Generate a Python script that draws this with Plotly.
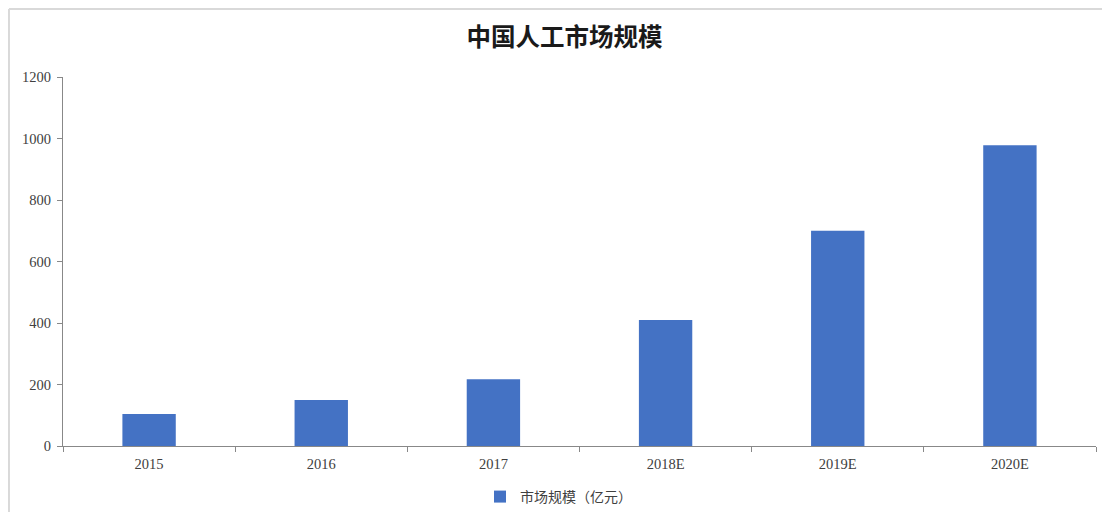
import plotly.graph_objects as go

categories = ["2015", "2016", "2017", "2018E", "2019E", "2020E"]
values = [104, 150, 217, 410, 700, 978]
series_name = "市场规模（亿元）"
title_text = "中国人工市场规模"

fig = go.Figure()
fig.add_trace(go.Bar(
    x=categories, y=values, name=series_name,
    marker=dict(color="#4472C4", line=dict(width=0)),
    showlegend=True,
))

axis_font = dict(family="Liberation Serif, Times New Roman, serif", size=14.5, color="#404040")

fig.update_layout(
    width=1094, height=504,
    margin=dict(l=55, r=6, t=69, b=66),
    paper_bgcolor="white", plot_bgcolor="white",
    bargap=0.69,
    title=dict(text="<b>" + title_text + "</b>", x=0.5087, xanchor="center", y=0.9425, yanchor="middle",
               font=dict(family="Noto Sans CJK SC", size=24.5, color="#1a1a1a")),
    xaxis=dict(
        type="category", showgrid=False, showline=True, linecolor="#888888", linewidth=1,
        ticks="outside", ticklen=5, tickcolor="#888888", tickson="boundaries",
        tickfont=axis_font, ticklabelstandoff=5,
    ),
    yaxis=dict(
        range=[0, 1200], dtick=200, showgrid=False, showline=True, linecolor="#888888", linewidth=1,
        ticks="outside", ticklen=5, tickcolor="#888888", tickfont=axis_font, zeroline=False,
        ticklabelstandoff=3,
    ),
    legend=dict(orientation="h", x=0.4037, xanchor="left", yref="container", y=0.0298, yanchor="middle",
                font=dict(family="Noto Sans CJK SC", size=14, color="#404040"),
                itemwidth=30),
    shapes=[
        dict(type="line", xref="paper", yref="paper", x0=-0.0523, x1=1.02, y0=1.184, y1=1.184,
             line=dict(color="#d9d9d9", width=2)),
        dict(type="line", xref="paper", yref="paper", x0=-0.0523, x1=-0.0523, y0=1.184, y1=-0.2,
             line=dict(color="#d9d9d9", width=2)),
    ],
)

fig.write_html("out.html")
